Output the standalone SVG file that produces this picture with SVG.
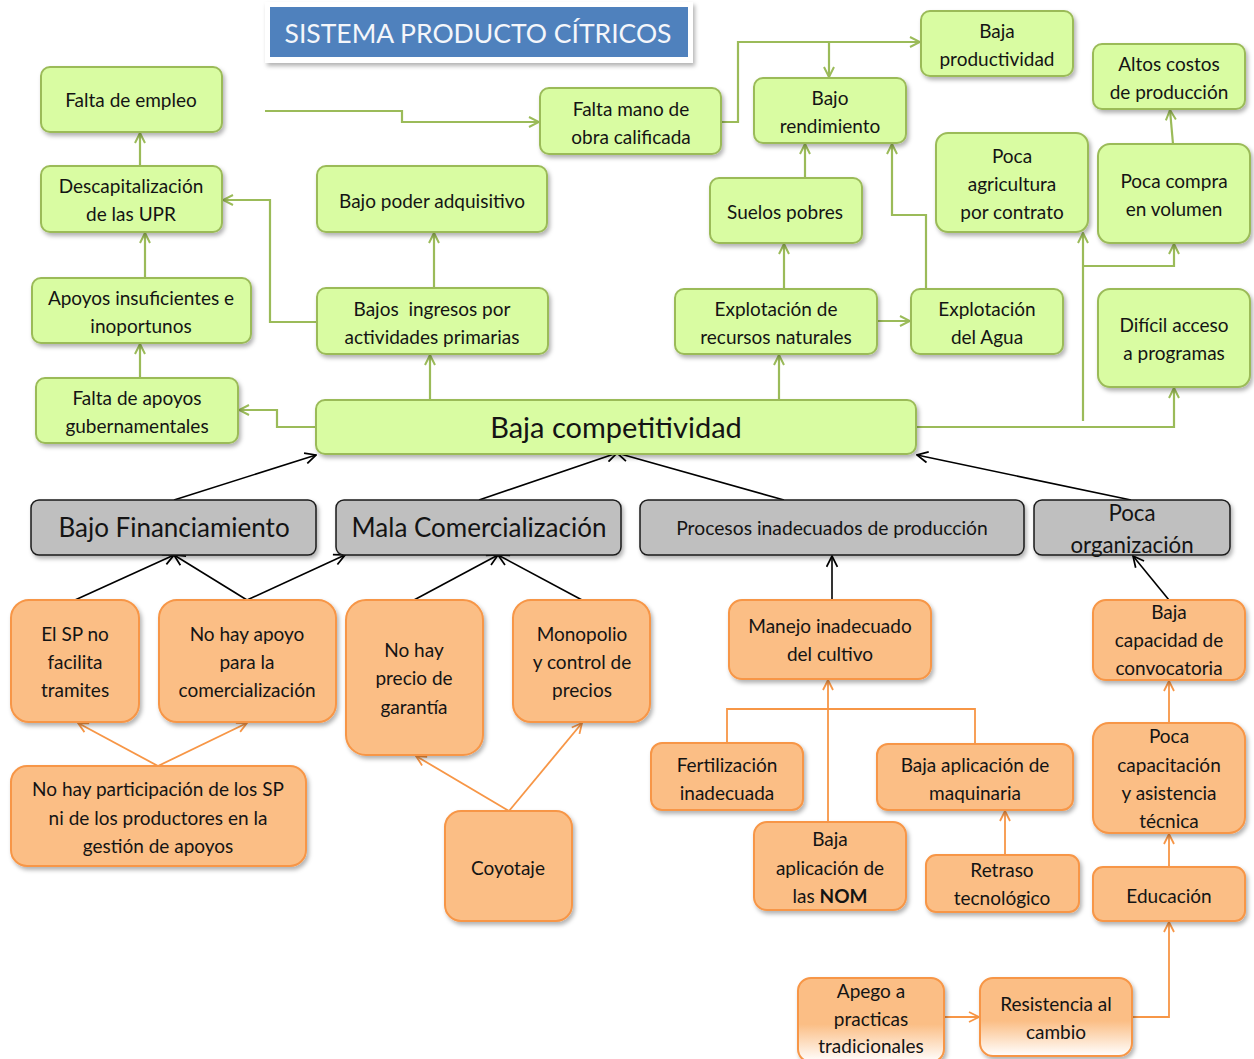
<svg xmlns="http://www.w3.org/2000/svg" width="1254" height="1059" viewBox="0 0 1254 1059">
<style>
text{font-family:Lato,"Open Sans","Liberation Sans",sans-serif;fill:#141414;text-anchor:middle;font-size:19px}
.g rect{fill:#d9fca2;stroke:#9bbb59;stroke-width:2}
.gr rect{fill:#bfbfbf;stroke:#1a1a1a;stroke-width:1.5}
.o rect{fill:#fbbe85;stroke:#f79646;stroke-width:2}
.cg{fill:none;stroke:#9bbb59;stroke-width:2.2;marker-end:url(#ag)}
.cb{fill:none;stroke:#000;stroke-width:1.6;marker-end:url(#ab)}
.co{fill:none;stroke:#f79646;stroke-width:1.8;marker-end:url(#ao)}
.con{fill:none;stroke:#f79646;stroke-width:1.8}
</style>
<defs>
<filter id="sh" x="-10%" y="-10%" width="130%" height="140%">
<feDropShadow dx="2" dy="3" stdDeviation="2" flood-color="#000" flood-opacity="0.3"/>
</filter>
<marker id="ag" viewBox="0 0 12 12" refX="11" refY="6" markerWidth="12" markerHeight="12" orient="auto" markerUnits="userSpaceOnUse"><path d="M1,1 L11,6 L1,11" fill="none" stroke="#9bbb59" stroke-width="2"/></marker>
<marker id="ab" viewBox="0 0 12 12" refX="11" refY="6" markerWidth="13" markerHeight="13" orient="auto" markerUnits="userSpaceOnUse"><path d="M1,1 L11,6 L1,11" fill="none" stroke="#000" stroke-width="1.6"/></marker>
<marker id="ao" viewBox="0 0 12 12" refX="11" refY="6" markerWidth="12" markerHeight="12" orient="auto" markerUnits="userSpaceOnUse"><path d="M1,1 L11,6 L1,11" fill="none" stroke="#f79646" stroke-width="1.8"/></marker>
<linearGradient id="fade" x1="0" y1="0" x2="0" y2="1">
<stop offset="0" stop-color="#fbbe85"/><stop offset="0.55" stop-color="#fbbe85"/><stop offset="1" stop-color="#ffffff"/>
</linearGradient>
</defs>
<rect width="1254" height="1059" fill="#fff"/>

<g id="title">
<rect x="265" y="2" width="428" height="61" fill="#fff" filter="url(#sh)"/>
<rect x="270" y="7" width="418" height="50" fill="#4f81bd"/>
<text x="478" y="43" style="fill:#f4f6fa;font-size:26.5px">SISTEMA PRODUCTO CÍTRICOS</text>
</g>

<g id="connectors">
<!-- green -->
<path class="cg" d="M265,111 H402 V122 H539"/>
<path class="cg" d="M721,122 H738 V42 H920"/>
<path class="cg" d="M829,42 V77"/>
<path class="cg" d="M805,178 V144"/>
<path class="cg" d="M926,289 V215 H892 V144"/>
<path class="cg" d="M784,289 V244"/>
<path class="cg" d="M877,321 H910"/>
<path class="cg" d="M779,400 V355"/>
<path class="cg" d="M916,427 H1174 V388"/>
<path class="cg" d="M1083,421 V233"/>
<path class="cg" d="M1083,266 H1174 V244"/>
<path class="cg" d="M1173,144 L1170,110"/>
<path class="cg" d="M140,166 V133"/>
<path class="cg" d="M145,278 V233"/>
<path class="cg" d="M140,378 V344"/>
<path class="cg" d="M317,322 H270 V200 H223"/>
<path class="cg" d="M434,288 V233"/>
<path class="cg" d="M430,400 V355"/>
<path class="cg" d="M316,427 H277 V410 H239"/>
<!-- black -->
<path class="cb" d="M174,500 L316,455"/>
<path class="cb" d="M479,500 L617,453"/>
<path class="cb" d="M784,500 L617,453"/>
<path class="cb" d="M1131,500 L917,455"/>
<path class="cb" d="M75,600 L174,555"/>
<path class="cb" d="M247,600 L174,555"/>
<path class="cb" d="M247,600 L345,555"/>
<path class="cb" d="M414,600 L498,555"/>
<path class="cb" d="M582,600 L498,555"/>
<path class="cb" d="M832,600 V556"/>
<path class="cb" d="M1169,600 L1133,556"/>
<!-- orange -->
<path class="co" d="M158,766 L78,723"/>
<path class="co" d="M158,766 L247,723"/>
<path class="co" d="M509,811 L416,756"/>
<path class="co" d="M509,811 L582,723"/>
<path class="con" d="M727,744 V709 H975 V744"/>
<path class="co" d="M828,822 V680"/>
<path class="co" d="M1005,855 V811"/>
<path class="co" d="M1169,723 V681"/>
<path class="co" d="M1169,867 V834"/>
<path class="co" d="M1132,1017 H1169 V922"/>
<path class="co" d="M944,1017 H979"/>
</g>

<g id="falta-empleo" class="g"><rect x="41" y="67" width="181" height="65" rx="9" filter="url(#sh)"/><text x="131" y="107">Falta de empleo</text></g>
<g id="descapitalizacion" class="g"><rect x="41" y="166" width="181" height="66" rx="9" filter="url(#sh)"/><text x="131" y="193">Descapitalización</text><text x="131" y="221">de las UPR</text></g>
<g id="apoyos-insuficientes" class="g"><rect x="32" y="278" width="219" height="65" rx="9" filter="url(#sh)"/><text x="141" y="305">Apoyos insuficientes e</text><text x="141" y="333">inoportunos</text></g>
<g id="falta-apoyos" class="g"><rect x="36" y="378" width="202" height="65" rx="9" filter="url(#sh)"/><text x="137" y="405">Falta de apoyos</text><text x="137" y="433">gubernamentales</text></g>
<g id="bajo-poder" class="g"><rect x="317" y="166" width="230" height="66" rx="9" filter="url(#sh)"/><text x="432" y="208">Bajo poder adquisitivo</text></g>
<g id="bajos-ingresos" class="g"><rect x="317" y="288" width="231" height="66" rx="9" filter="url(#sh)"/><text x="432" y="316" style="white-space:pre">Bajos  ingresos por</text><text x="432" y="344">actividades primarias</text></g>
<g id="baja-competitividad" class="g"><rect x="316" y="400" width="600" height="54" rx="9" filter="url(#sh)"/><text x="616" y="438" style="font-size:29px">Baja competitividad</text></g>
<g id="falta-mano" class="g"><rect x="540" y="88" width="181" height="66" rx="9" filter="url(#sh)"/><text x="631" y="116">Falta mano de</text><text x="631" y="144">obra calificada</text></g>
<g id="bajo-rendimiento" class="g"><rect x="754" y="78" width="152" height="65" rx="9" filter="url(#sh)"/><text x="830" y="105">Bajo</text><text x="830" y="133">rendimiento</text></g>
<g id="baja-productividad" class="g"><rect x="921" y="11" width="152" height="65" rx="9" filter="url(#sh)"/><text x="997" y="38">Baja</text><text x="997" y="66">productividad</text></g>
<g id="altos-costos" class="g"><rect x="1093" y="44" width="152" height="65" rx="9" filter="url(#sh)"/><text x="1169" y="71">Altos costos</text><text x="1169" y="99">de producción</text></g>
<g id="suelos-pobres" class="g"><rect x="710" y="178" width="152" height="65" rx="9" filter="url(#sh)"/><text x="785" y="219">Suelos pobres</text></g>
<g id="poca-agricultura" class="g"><rect x="936" y="133" width="152" height="99" rx="12" filter="url(#sh)"/><text x="1012" y="163">Poca</text><text x="1012" y="191">agricultura</text><text x="1012" y="219">por contrato</text></g>
<g id="poca-compra" class="g"><rect x="1098" y="144" width="152" height="99" rx="12" filter="url(#sh)"/><text x="1174" y="188">Poca compra</text><text x="1174" y="216">en volumen</text></g>
<g id="explotacion-recursos" class="g"><rect x="675" y="289" width="202" height="65" rx="9" filter="url(#sh)"/><text x="776" y="316">Explotación de</text><text x="776" y="344">recursos naturales</text></g>
<g id="explotacion-agua" class="g"><rect x="911" y="289" width="152" height="65" rx="9" filter="url(#sh)"/><text x="987" y="316">Explotación</text><text x="987" y="344">del Agua</text></g>
<g id="dificil-acceso" class="g"><rect x="1098" y="289" width="152" height="98" rx="12" filter="url(#sh)"/><text x="1174" y="332">Difícil acceso</text><text x="1174" y="360">a programas</text></g>

<g id="bajo-financiamiento" class="gr"><rect x="31" y="500" width="285" height="55" rx="8" filter="url(#sh)"/><text x="174" y="537" style="font-size:26px">Bajo Financiamiento</text></g>
<g id="mala-comercializacion" class="gr"><rect x="336" y="500" width="285" height="55" rx="8" filter="url(#sh)"/><text x="479" y="537" style="font-size:26px">Mala Comercialización</text></g>
<g id="procesos-inadecuados" class="gr"><rect x="640" y="500" width="384" height="55" rx="8" filter="url(#sh)"/><text x="832" y="535" style="font-size:19.3px">Procesos inadecuados de producción</text></g>
<g id="poca-organizacion" class="gr"><rect x="1034" y="500" width="196" height="55" rx="8" filter="url(#sh)"/><text x="1132" y="521" style="font-size:22.3px">Poca</text><text x="1132" y="553" style="font-size:22.3px">organización</text></g>

<g id="sp-no-facilita" class="o"><rect x="11" y="600" width="128" height="122" rx="18" filter="url(#sh)"/><text x="75" y="641">El SP no</text><text x="75" y="669">facilita</text><text x="75" y="697">tramites</text></g>
<g id="no-hay-apoyo" class="o"><rect x="159" y="600" width="177" height="122" rx="18" filter="url(#sh)"/><text x="247" y="641">No hay apoyo</text><text x="247" y="669">para la</text><text x="247" y="697">comercialización</text></g>
<g id="no-hay-precio" class="o"><rect x="346" y="600" width="137" height="155" rx="20" filter="url(#sh)"/><text x="414" y="657">No hay</text><text x="414" y="685">precio de</text><text x="414" y="714">garantía</text></g>
<g id="monopolio" class="o"><rect x="513" y="600" width="137" height="122" rx="18" filter="url(#sh)"/><text x="582" y="641">Monopolio</text><text x="582" y="669">y control de</text><text x="582" y="697">precios</text></g>
<g id="no-hay-participacion" class="o"><rect x="11" y="766" width="295" height="100" rx="16" filter="url(#sh)"/><text x="158" y="796">No hay participación de los SP</text><text x="158" y="825">ni de los productores en la</text><text x="158" y="853">gestión de apoyos</text></g>
<g id="coyotaje" class="o"><rect x="445" y="811" width="127" height="110" rx="16" filter="url(#sh)"/><text x="508" y="875">Coyotaje</text></g>
<g id="manejo-inadecuado" class="o"><rect x="729" y="600" width="202" height="79" rx="13" filter="url(#sh)"/><text x="830" y="633">Manejo inadecuado</text><text x="830" y="661">del cultivo</text></g>
<g id="fertilizacion" class="o"><rect x="651" y="743" width="152" height="67" rx="11" filter="url(#sh)"/><text x="727" y="772">Fertilización</text><text x="727" y="800">inadecuada</text></g>
<g id="baja-maquinaria" class="o"><rect x="877" y="744" width="196" height="66" rx="11" filter="url(#sh)"/><text x="975" y="772">Baja aplicación de</text><text x="975" y="800">maquinaria</text></g>
<g id="baja-nom" class="o"><rect x="754" y="822" width="152" height="88" rx="13" filter="url(#sh)"/><text x="830" y="846">Baja</text><text x="830" y="875">aplicación de</text><text x="830" y="903">las <tspan style="font-weight:bold">NOM</tspan></text></g>
<g id="retraso-tecnologico" class="o"><rect x="926" y="855" width="153" height="57" rx="10" filter="url(#sh)"/><text x="1002" y="877">Retraso</text><text x="1002" y="905">tecnológico</text></g>
<g id="baja-capacidad" class="o"><rect x="1093" y="600" width="152" height="80" rx="13" filter="url(#sh)"/><text x="1169" y="619">Baja</text><text x="1169" y="647">capacidad de</text><text x="1169" y="675">convocatoria</text></g>
<g id="poca-capacitacion" class="o"><rect x="1093" y="723" width="152" height="110" rx="16" filter="url(#sh)"/><text x="1169" y="743">Poca</text><text x="1169" y="772">capacitación</text><text x="1169" y="800">y asistencia</text><text x="1169" y="828">técnica</text></g>
<g id="educacion" class="o"><rect x="1093" y="867" width="152" height="54" rx="10" filter="url(#sh)"/><text x="1169" y="903">Educación</text></g>
<g id="apego" class="o"><rect x="798" y="978" width="146" height="84" rx="13" style="fill:url(#fade)" filter="url(#sh)"/><text x="871" y="998">Apego a</text><text x="871" y="1026">practicas</text><text x="871" y="1053">tradicionales</text></g>
<g id="resistencia" class="o"><rect x="980" y="978" width="152" height="78" rx="13" style="fill:url(#fade)" filter="url(#sh)"/><text x="1056" y="1011">Resistencia al</text><text x="1056" y="1039">cambio</text></g>
</svg>
